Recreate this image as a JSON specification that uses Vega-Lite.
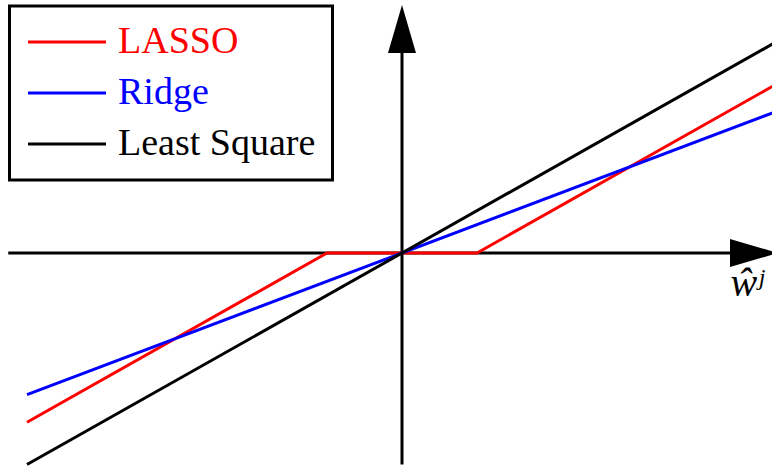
{
  "$schema": "https://vega.github.io/schema/vega-lite/v6.json",
  "width": 772,
  "height": 469,
  "autosize": {"type": "none"},
  "padding": 0,
  "background": "white",
  "config": {"view": {"stroke": null}, "legend": {"strokeWidth": 3}},
  "datasets": {
    "curves": [
      {"method": "LASSO", "w": -5, "v": -4},
      {"method": "LASSO", "w": -1, "v": 0},
      {"method": "LASSO", "w": 1, "v": 0},
      {"method": "LASSO", "w": 5, "v": 4},
      {"method": "Ridge", "w": -5, "v": -3.35},
      {"method": "Ridge", "w": 5, "v": 3.35},
      {"method": "Least Square", "w": -5, "v": -5},
      {"method": "Least Square", "w": 5, "v": 5}
    ],
    "axes": [
      {"axis": "x", "w": -5.25, "v": 0},
      {"axis": "x", "w": 4.6, "v": 0},
      {"axis": "y", "w": 0, "v": -5.0},
      {"axis": "y", "w": 0, "v": 5.5}
    ],
    "arrows": [
      {"axis": "x", "w": 5.013, "v": 0},
      {"axis": "y", "w": 0, "v": 5.863}
    ]
  },
  "layer": [
    {
      "data": {"name": "axes"},
      "mark": {"type": "line", "stroke": "black", "strokeWidth": 3, "clip": true},
      "encoding": {
        "x": {"field": "w", "type": "quantitative", "scale": {"domain": [-5.36, 4.9333], "nice": false, "zero": false},
          "axis": {"domain": false, "ticks": false, "labels": false, "grid": false, "title": "ŵʲ", "titleFont": "Liberation Serif", "titleFontStyle": "italic", "titleFontSize": 40, "titleFontWeight": "normal", "titleColor": "black", "titleX": 730, "titleY": -174, "titleAlign": "left", "titleBaseline": "alphabetic", "titleAnchor": "start"}},
        "y": {"field": "v", "type": "quantitative", "scale": {"domain": [-5.106, 5.981], "nice": false, "zero": false}, "axis": null},
        "detail": {"field": "axis", "type": "nominal"}
      }
    },
    {
      "data": {"name": "arrows"},
      "mark": {"type": "point", "shape": "M 0 0 L -2 -0.583 L -2 0.583 Z", "filled": true, "fill": "black", "strokeWidth": 0, "size": 2304, "opacity": 1, "clip": true},
      "encoding": {
        "x": {"field": "w", "type": "quantitative", "scale": {"domain": [-5.36, 4.9333], "nice": false, "zero": false},
          "axis": {"domain": false, "ticks": false, "labels": false, "grid": false, "title": "ŵʲ", "titleFont": "Liberation Serif", "titleFontStyle": "italic", "titleFontSize": 40, "titleFontWeight": "normal", "titleColor": "black", "titleX": 730, "titleY": -174, "titleAlign": "left", "titleBaseline": "alphabetic", "titleAnchor": "start"}},
        "y": {"field": "v", "type": "quantitative", "scale": {"domain": [-5.106, 5.981], "nice": false, "zero": false}, "axis": null},
        "angle": {"field": "axis", "type": "nominal", "scale": {"domain": ["x", "y"], "range": [0, -90]}, "legend": null}
      }
    },
    {
      "data": {"name": "curves"},
      "mark": {"type": "line", "strokeWidth": 3, "clip": true},
      "encoding": {
        "x": {"field": "w", "type": "quantitative", "scale": {"domain": [-5.36, 4.9333], "nice": false, "zero": false},
          "axis": {"domain": false, "ticks": false, "labels": false, "grid": false, "title": "ŵʲ", "titleFont": "Liberation Serif", "titleFontStyle": "italic", "titleFontSize": 40, "titleFontWeight": "normal", "titleColor": "black", "titleX": 730, "titleY": -174, "titleAlign": "left", "titleBaseline": "alphabetic", "titleAnchor": "start"}},
        "y": {"field": "v", "type": "quantitative", "scale": {"domain": [-5.106, 5.981], "nice": false, "zero": false}, "axis": null},
        "color": {
          "field": "method", "type": "nominal",
          "scale": {"domain": ["LASSO", "Ridge", "Least Square"], "range": ["#ff0000", "#0000ff", "#000000"]},
          "legend": {
            "title": null,
            "orient": "none",
            "legendX": 9.5,
            "legendY": 6,
            "direction": "vertical",
            "symbolType": "M -2.4375 0 L 2.4375 0",
            "symbolSize": 1024,
            "symbolStrokeWidth": 3,
            "symbolOffset": 21.5,
            "labelFont": "Liberation Serif",
            "labelFontSize": 38,
            "labelOffset": 32,
            "labelLimit": 0,
            "padding": 17,
            "rowPadding": 13,
            "strokeColor": "black",
            "fillColor": "white",
            "encode": {
              "labels": {"update": {"fill": {"scale": "color", "field": "value"}}},
              "legend": {"update": {"strokeWidth": {"value": 3}}}
            }
          }
        }
      }
    }
  ]
}
